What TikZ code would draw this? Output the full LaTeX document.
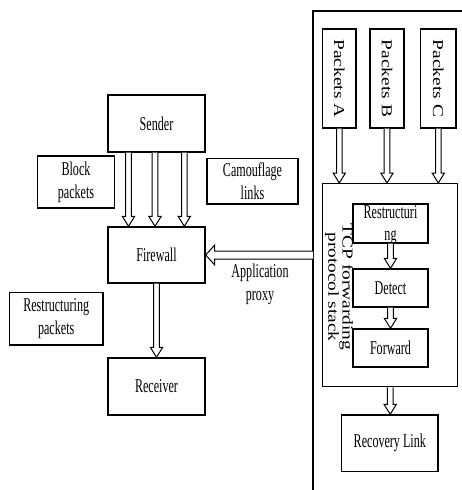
\documentclass[tikz,border=0pt]{standalone}
\usepackage{fontspec}
\setmainfont{Liberation Serif}
\newfontfamily\hfont{Liberation Serif}[FakeStretch=0.62]
\newfontfamily\vfont{Liberation Serif}
\usetikzlibrary{calc}

% hollow block arrows: shaft drawn as two parallel lines ending in an open head
\newcommand\fatdown[2]{%
  \draw[fatarrow] let \p1=#1, \p2=#2 in
    (\x1-2.8pt,\y1) -- (\x1-2.8pt,\y2+10pt) -- (\x1-6.2pt,\y2+10pt) -- (\x1,\y2)
    -- (\x1+6.2pt,\y2+10pt) -- (\x1+2.8pt,\y2+10pt) -- (\x1+2.8pt,\y1);}
\newcommand\fatleft[2]{%
  \draw[fatarrow] let \p1=#1, \p2=#2 in
    (\x1,\y1+4pt) -- (\x2+9pt,\y1+4pt) -- (\x2+9pt,\y1+10pt) -- (\x2,\y1)
    -- (\x2+9pt,\y1-10pt) -- (\x2+9pt,\y1-4pt) -- (\x1,\y1-4pt);}

\tikzset{
  box/.style={draw, line width=1.4pt, inner sep=0pt, align=center,
    font=\hfont\fontsize{19.5}{23}\selectfont},
  plain/.style={inner sep=0pt, align=center, font=\hfont\fontsize{19.5}{23}\selectfont},
  vbox/.style={draw, line width=1.4pt, inner sep=0pt},
  vtext/.style={rotate=-90, inner sep=0pt, font=\vfont\fontsize{19.4}{19.4}\selectfont},
  fatarrow/.style={draw, line width=1pt, fill=white, line join=miter},
  frame/.style={line width=1.2pt}
}

\begin{document}
\begin{tikzpicture}[x=1pt, y=-1pt]
\useasboundingbox (0,0) rectangle (461,490);

% left-hand chain
\node[box, minimum width=97pt, minimum height=57pt] (sender) at (156.5,123.5) {Sender};
\node[box, minimum width=97pt, minimum height=56pt] (firewall) at (156.5,255) {Firewall};
\node[box, minimum width=97pt, minimum height=57pt] (receiver) at (156.5,386.5) {Receiver};

\node[box, minimum width=76.6pt, minimum height=52pt] (block) at (76,182) {Block\\packets};
\node[box, minimum width=91pt, minimum height=45.3pt] (camo) at (252.5,181.3) {Camouflage\\links};
\node[box, minimum width=93.7pt, minimum height=52.3pt] (restpk) at (56.2,318.8) {Restructuring\\packets};
\node[plain] (proxy) at (260,284.5) {Application\\proxy};

% proxy side frame
\coordinate (ftop) at (313,11);
\draw[frame] (313,491) -- (ftop) -- (462,11);

\node[vbox, minimum width=33.3pt, minimum height=99pt] (pA) at (339.3,78.5) {};
\node[vbox, minimum width=34pt, minimum height=99pt] (pB) at (387,78.5) {};
\node[vbox, minimum width=35.3pt, minimum height=99pt] (pC) at (438.3,78.5) {};
\node[vtext] (pAt) at (pA.center) {\scalebox{1}[0.78]{Packets A}};
\node[vtext] (pBt) at (pB.center) {\scalebox{1}[0.78]{Packets B}};
\node[vtext] (pCt) at (pC.center) {\scalebox{1}[0.78]{Packets C}};

\node[vbox, minimum width=135pt, minimum height=203pt] (tcp) at (390.2,285.2) {};
\node[vtext] (tcpt) at (338.5,287) {\scalebox{1}[0.78]{\begin{tabular}{@{}c@{}}TCP forwarding\\[-1pt]protocol stack\end{tabular}}};

\node[box, minimum width=75pt, minimum height=39pt] (restr) at (390.5,223.5) {};
\node[plain, font=\hfont\fontsize{19.5}{21.5}\selectfont, anchor=north] (restrt) at ([yshift=-2.5pt]restr.north) {Restructuri\\ng};
\node[box, minimum width=75pt, minimum height=38pt] (detect) at (390.5,288) {Detect};
\node[box, minimum width=75pt, minimum height=38pt] (forward) at (390.5,348) {Forward};
\node[box, minimum width=96.3pt, minimum height=56.7pt] (recovery) at (389.8,443.3) {Recovery Link};

% connectors
\fatdown{([xshift=-28pt]sender.south)}{(firewall.north)}
\fatdown{([xshift=-1.5pt]sender.south)}{(firewall.north)}
\fatdown{([xshift=27.8pt]sender.south)}{(firewall.north)}
\fatdown{(firewall.south)}{(receiver.north)}
\fatleft{(ftop |- firewall.east)}{(firewall.east)}

\fatdown{(pA.south)}{(tcp.north)}
\fatdown{(pB.south)}{(tcp.north)}
\fatdown{(pC.south)}{(tcp.north)}
\fatdown{(restr.south)}{(detect.north)}
\fatdown{(detect.south)}{(forward.north)}
\fatdown{(tcp.south)}{(recovery.north)}
\end{tikzpicture}
\end{document}
